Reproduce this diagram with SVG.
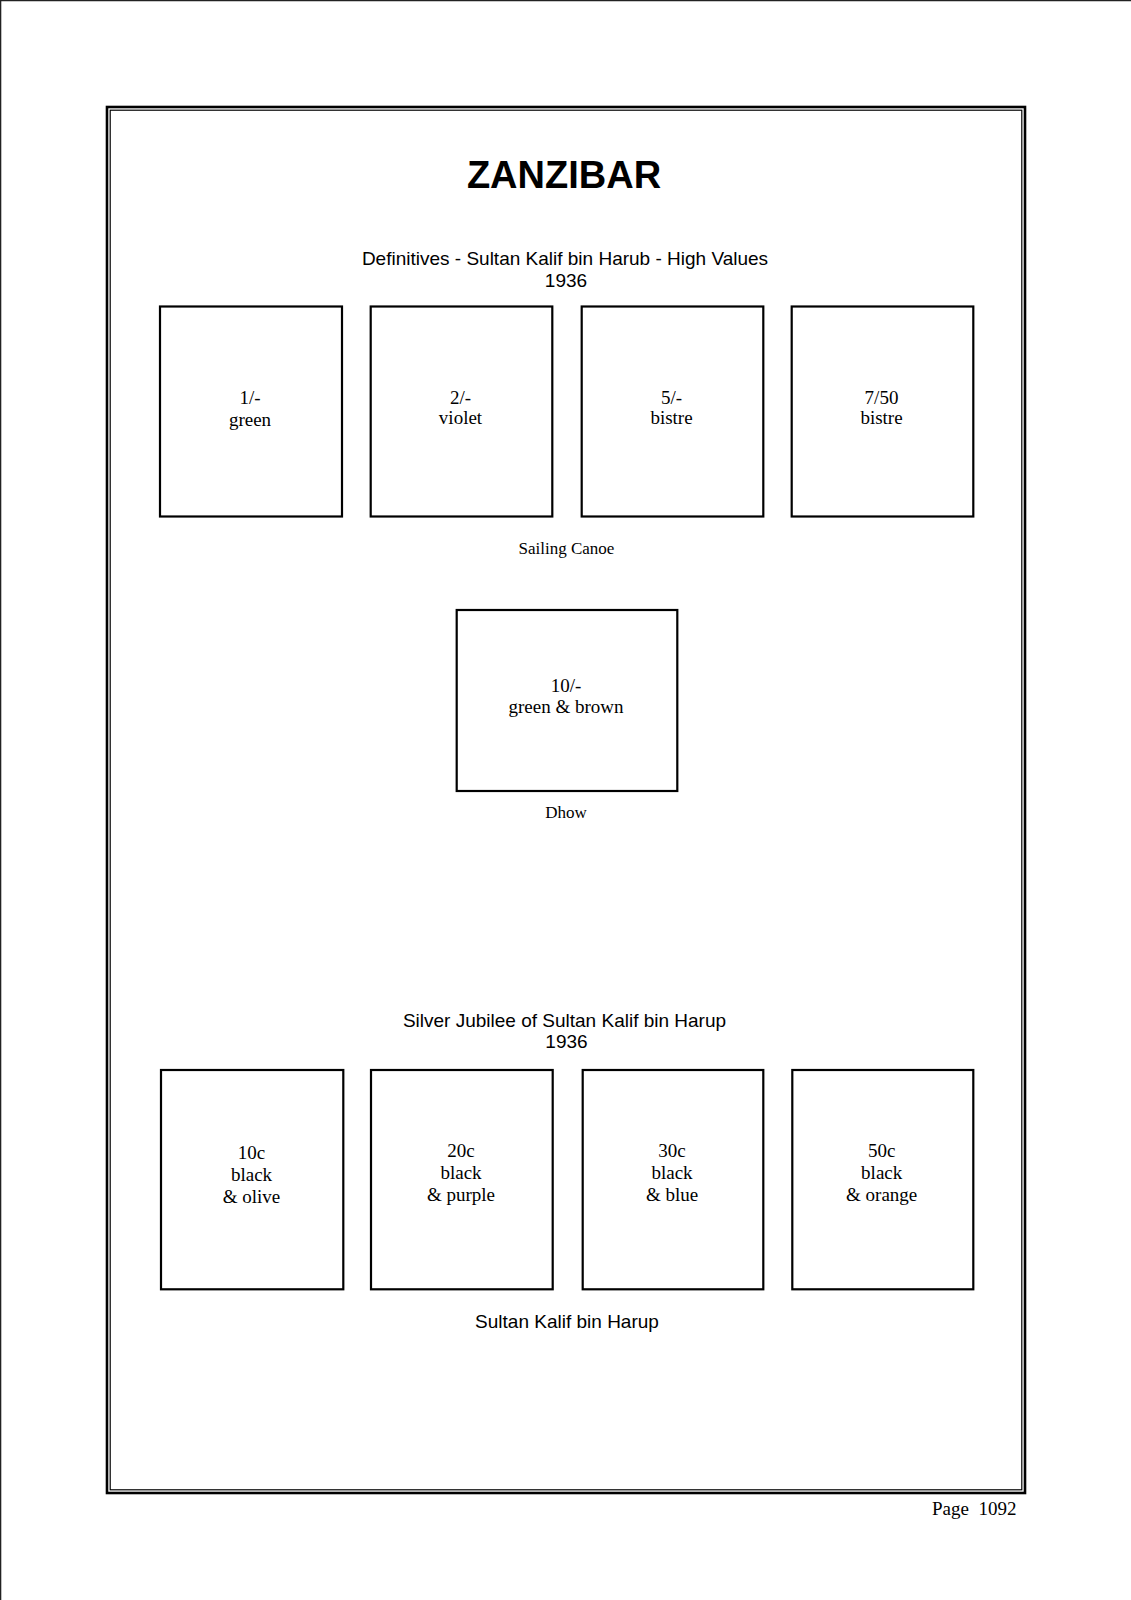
<svg xmlns="http://www.w3.org/2000/svg" width="1131" height="1600" viewBox="0 0 1131 1600">
<style>
.box{fill:#fff;stroke:#000;stroke-width:2.2}
.sans{font-family:"Liberation Sans",Arial,sans-serif;fill:#000}
.serif{font-family:"Liberation Serif","Times New Roman",serif;fill:#000}
.lbl{font-size:19px;text-anchor:middle}
.cap{font-size:17px;text-anchor:middle}
.head{font-size:19px;text-anchor:middle}
</style>
<rect x="0" y="0" width="1131" height="1600" fill="#fff"/>
<g id="page-edge">
<line x1="0" y1="0.6" x2="1131" y2="0.6" stroke="#222" stroke-width="1.4"/>
<line x1="0.6" y1="0" x2="0.6" y2="1600" stroke="#222" stroke-width="1.4"/>
</g>
<g id="frame">
<rect x="107" y="107" width="918" height="1386" fill="none" stroke="#000" stroke-width="2.6"/>
<rect x="110.2" y="110.2" width="911.6" height="1379.6" fill="none" stroke="#000" stroke-width="1.2"/>
</g>
<g id="title">
<text class="sans" x="564" y="187.5" font-size="38" font-weight="bold" text-anchor="middle">ZANZIBAR</text>
</g>
<g id="heading-1">
<text class="sans head" x="565" y="265">Definitives - Sultan Kalif bin Harub - High Values</text>
<text class="sans head" x="566" y="287">1936</text>
</g>
<g id="stamp-1">
<rect class="box" x="160" y="306.5" width="182" height="210"/>
<text class="serif lbl" x="250" y="404">1/-</text>
<text class="serif lbl" x="250" y="425.5">green</text>
</g>
<g id="stamp-2">
<rect class="box" x="370.7" y="306.5" width="181.6" height="210"/>
<text class="serif lbl" x="460.5" y="403.5">2/-</text>
<text class="serif lbl" x="460.5" y="424">violet</text>
</g>
<g id="stamp-3">
<rect class="box" x="581.7" y="306.5" width="181.6" height="210"/>
<text class="serif lbl" x="671.5" y="403.5">5/-</text>
<text class="serif lbl" x="671.5" y="424">bistre</text>
</g>
<g id="stamp-4">
<rect class="box" x="791.7" y="306.5" width="181.6" height="210"/>
<text class="serif lbl" x="881.5" y="403.5">7/50</text>
<text class="serif lbl" x="881.5" y="424">bistre</text>
</g>
<g id="caption-1">
<text class="serif cap" x="566.5" y="554">Sailing Canoe</text>
</g>
<g id="stamp-5">
<rect class="box" x="456.7" y="610" width="220.6" height="181"/>
<text class="serif lbl" x="566" y="692.3">10/-</text>
<text class="serif lbl" x="566" y="713.3">green &amp; brown</text>
</g>
<g id="caption-2">
<text class="serif cap" x="566" y="818.3">Dhow</text>
</g>
<g id="heading-2">
<text class="sans head" x="564.5" y="1026.7">Silver Jubilee of Sultan Kalif bin Harup</text>
<text class="sans head" x="566.5" y="1048.3">1936</text>
</g>
<g id="stamp-6">
<rect class="box" x="161" y="1070" width="182.3" height="219.3"/>
<text class="serif lbl" x="251.5" y="1159.3">10c</text>
<text class="serif lbl" x="251.5" y="1181">black</text>
<text class="serif lbl" x="251.5" y="1202.7">&amp; olive</text>
</g>
<g id="stamp-7">
<rect class="box" x="371" y="1070" width="181.7" height="219.3"/>
<text class="serif lbl" x="461" y="1157.3">20c</text>
<text class="serif lbl" x="461" y="1179.3">black</text>
<text class="serif lbl" x="461" y="1201">&amp; purple</text>
</g>
<g id="stamp-8">
<rect class="box" x="582.7" y="1070" width="180.6" height="219.3"/>
<text class="serif lbl" x="672" y="1157.3">30c</text>
<text class="serif lbl" x="672" y="1179.3">black</text>
<text class="serif lbl" x="672" y="1201">&amp; blue</text>
</g>
<g id="stamp-9">
<rect class="box" x="792.3" y="1070" width="181" height="219.3"/>
<text class="serif lbl" x="881.7" y="1157.3">50c</text>
<text class="serif lbl" x="881.7" y="1179.3">black</text>
<text class="serif lbl" x="881.7" y="1201">&amp; orange</text>
</g>
<g id="caption-3">
<text class="sans head" x="567" y="1328">Sultan Kalif bin Harup</text>
</g>
<g id="page-number">
<text class="serif" x="932" y="1515" font-size="19" xml:space="preserve">Page  1092</text>
</g>
<g id="connectors"></g>
</svg>
